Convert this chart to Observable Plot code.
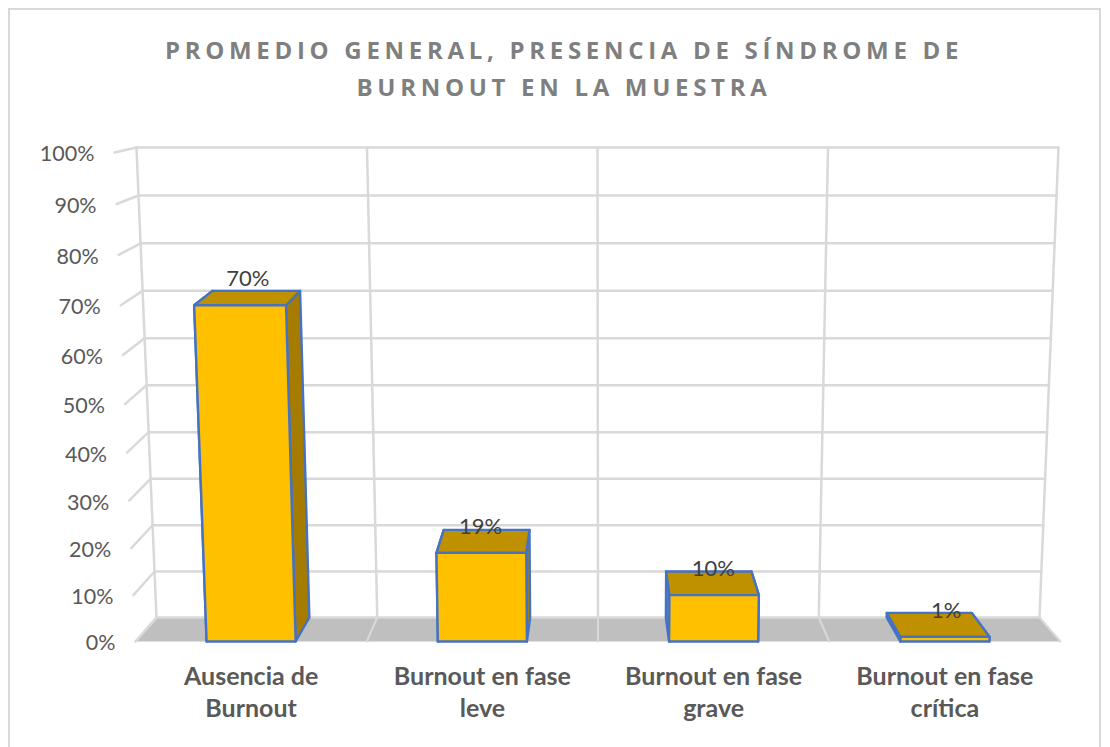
<!DOCTYPE html>
<html lang="es">
<head>
<meta charset="utf-8">
<script src="https://cdn.jsdelivr.net/npm/d3@7"></script>
<script src="https://cdn.jsdelivr.net/npm/@observablehq/plot@0.6"></script>
<style>
  html, body { margin: 0; padding: 0; background: #fff; }
  #page { position: relative; width: 1110px; height: 747px; overflow: hidden; font-family: Lato, sans-serif; }
  #frame { position: absolute; left: 8px; top: 8px; width: 1093px; height: 760px; border: 2px solid #d9d9d9; box-sizing: border-box; }
  #title { position: absolute; left: 9px; top: 32px; width: 1110px; text-align: center; font-family: "Open Sans", sans-serif; font-weight: 700; font-size: 24px; line-height: 36.5px; letter-spacing: 4.7px; color: #7f7f7f; }
  #chart { position: absolute; left: 0; top: 110px; }
  svg { display: block; background: transparent !important; }
</style>
</head>
<body>
<div id="page">
  <div id="frame"></div>
  <div id="title">PROMEDIO GENERAL, PRESENCIA DE SÍNDROME DE<br>BURNOUT EN LA MUESTRA</div>
  <div id="chart"></div>
</div>
<script>
// ---- data ----
const categories = ["Ausencia de\nBurnout", "Burnout en fase\nleve", "Burnout en fase\ngrave", "Burnout en fase\ncrítica"];
const values = [70, 19, 10, 1];
const valueLabels = ["70%", "19%", "10%", "1%"];
const axisTicks = [0, 10, 20, 30, 40, 50, 60, 70, 80, 90, 100];
const barWidthShare = 0.385;

// ---- perspective of the 3-D box, in the units of the x scale (categories)
// and the y scale (percent on the front plane) ----
const nCat = categories.length;
const frontCurve = t => t / (1.06 - 0.06 * t);
const backCurve = t => t / (1.024 - 0.024 * t);
const lean = 0.0908;        // how far the front left edge leans per full height, in category units
function proj(c, v, d) {
  const t = v / 100, s = c / nCat;
  // left/right edges of the front (d=0) and back (d=1) planes
  const L0 = -lean * t, R0 = nCat + lean * t;
  const L1 = 0.0908 - 0.0865 * t, R1 = nCat - 0.0908 + 0.0822 * t;
  const x = d ? L1 + (R1 - L1) * s : L0 + (R0 - L0) * s;
  const y = d
    ? (617 - 470 * backCurve(t) - 641) / -4.89
    : 100 * frontCurve(t);
  return {x, y};
}
const poly = (pts, id) => [...pts, pts[0]].map(([c, v, d]) => ({...proj(c, v, d), id}));

// ---- faces ----
const floor = poly([[0, 0, 0], [nCat, 0, 0], [nCat, 0, 1], [0, 0, 1]], "floor");
const grid = [];
axisTicks.forEach(v => {
  grid.push({...proj(0, v, 0), id: "t" + v}, {...proj(0, v, 1), id: "t" + v});
  grid.push({...proj(0, v, 1), id: "h" + v}, {...proj(nCat, v, 1), id: "h" + v});
});
const walls = [];
d3.range(nCat + 1).forEach(c => {
  walls.push({...proj(c, 0, 1), id: "w" + c}, {...proj(c, 100, 1), id: "w" + c});
});
const floorLines = [];
d3.range(nCat + 1).forEach(c => {
  floorLines.push({...proj(c, 0, 0), id: "f" + c}, {...proj(c, 0, 1), id: "f" + c});
});

const sides = [], tops = [], fronts = [];
values.forEach((v, i) => {
  const a = i + 0.5 - barWidthShare / 2, b = i + 0.5 + barWidthShare / 2;
  sides.push(...poly([[a, 0, 0], [a, v, 0], [a, v, 1], [a, 0, 1]], "l" + i));
  sides.push(...poly([[b, 0, 0], [b, v, 0], [b, v, 1], [b, 0, 1]], "r" + i));
  tops.push(...poly([[a, v, 0], [b, v, 0], [b, v, 1], [a, v, 1]], "t" + i));
  fronts.push(...poly([[a, 0, 0], [b, 0, 0], [b, v, 0], [a, v, 0]], "f" + i));
});

const barStroke = {x: "x", y: "y", z: "id", stroke: "#4472c4", strokeWidth: 2.4, strokeLinejoin: "round", curve: "linear"};
const gridStyle = {x: "x", y: "y", z: "id", stroke: "#d9d9d9", strokeWidth: 2.5, curve: "linear"};

const tickData = axisTicks.map(v => ({...proj(0, v, 0), label: v + "%"}));
const barLabelData = values.map((v, i) => ({x: (i + 0.5) * 1.0065 - 0.0173, y: proj(0, v, 0).y, label: valueLabels[i]}));
const catData = categories.map((label, i) => ({x: i + 0.5, label}));

const chart = Plot.plot({
  width: 1110, height: 637,
  marginLeft: 135, marginRight: 50, marginTop: 42, marginBottom: 106,
  style: {background: "transparent", overflow: "visible"},
  x: {domain: [0, nCat], axis: null},
  y: {domain: [0, 100], axis: null},
  marks: [
    Plot.line(floor, {x: "x", y: "y", z: "id", fill: "#bfbfbf", stroke: "none", curve: "linear"}),
    Plot.line(grid, gridStyle),
    Plot.line(walls, gridStyle),
    Plot.line(floorLines, {...gridStyle, strokeWidth: 2}),
    Plot.line(sides, {...barStroke, fill: "#a67c00"}),
    Plot.line(tops, {...barStroke, fill: "#bf9000"}),
    Plot.line(fronts, {...barStroke, fill: "#ffc000"}),
    Plot.text(tickData, {x: "x", y: "y", text: "label", textAnchor: "end", dx: -20, dy: 2, fontSize: 21.5, fill: "#595959", fontFamily: "Lato"}),
    Plot.text(barLabelData, {x: "x", y: "y", text: "label", dy: -26, fontSize: 22, fill: "#404040", fontFamily: "Lato"}),
    Plot.text(catData, {x: "x", y: 0, text: "label", dy: 49.5, lineAnchor: "middle", lineHeight: 1.28, fontSize: 25, fontWeight: 700, fill: "#595959", fontFamily: "Lato"})
  ]
});
document.getElementById("chart").appendChild(chart);
</script>
</body>
</html>
